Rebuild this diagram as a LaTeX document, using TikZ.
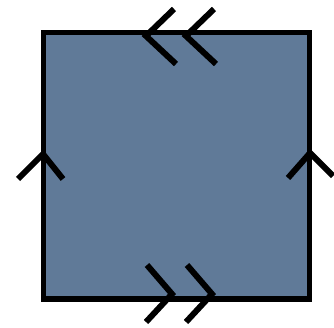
\documentclass[tikz,border=0pt]{standalone}
\definecolor{slate}{RGB}{96,122,152}
\begin{document}
\begin{tikzpicture}[x=0.75pt,y=-0.75pt,
  border/.style={draw=black,line width=3.9pt,fill=slate,line join=miter},
  chev/.style={draw=black,line width=4.5pt,line cap=butt,line join=miter}]
\useasboundingbox (0,0) rectangle (334,327);
\draw[border] (43.5,32.5) rectangle (309.5,299);
% left edge, up
\draw[chev] (18,179) -- (43,154) -- (63,179);
% right edge, up
\draw[chev] (288,178) -- (310,153) -- (333,176);
% top edge, double left
\draw[chev] (174,9) -- (146,36) -- (176,64);
\draw[chev] (214,9) -- (186,36) -- (216,64);
% bottom edge, double right
\draw[chev] (147,265) -- (172,294) -- (146,322);
\draw[chev] (187,265) -- (212,294) -- (186,322);
\end{tikzpicture}
\end{document}
